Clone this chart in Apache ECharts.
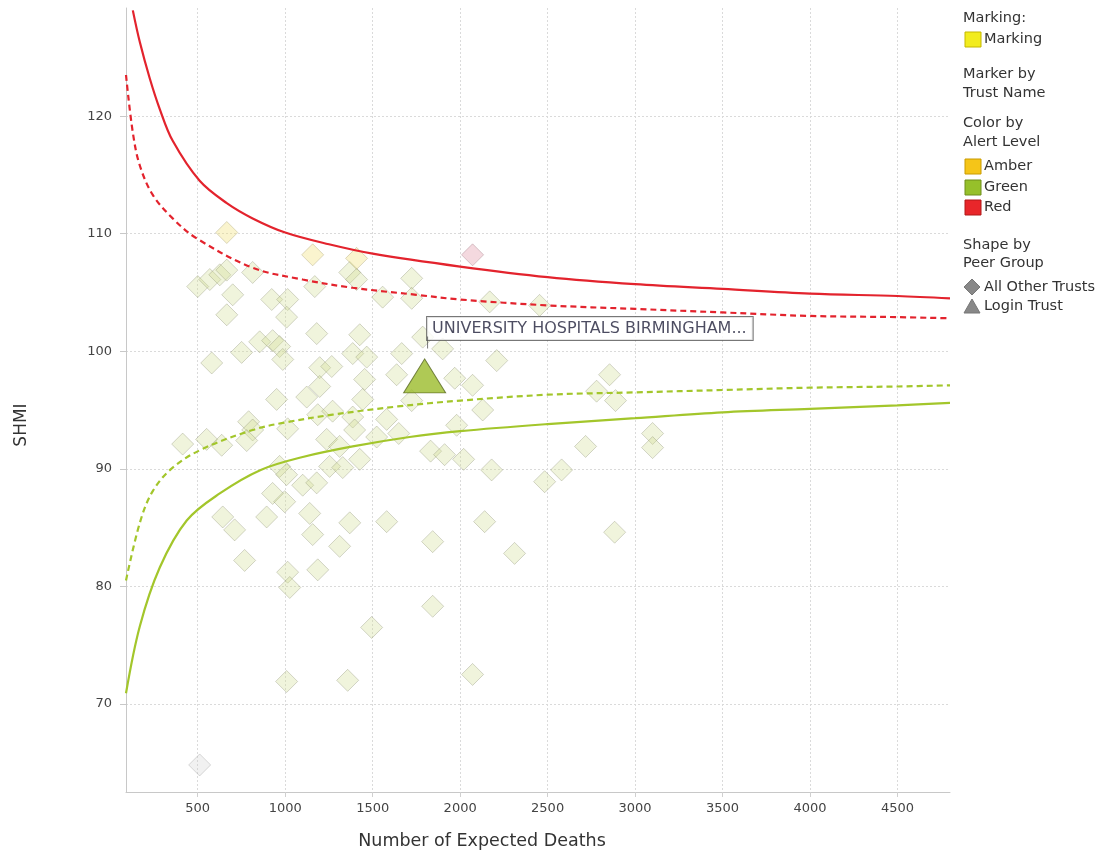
<!DOCTYPE html>
<html>
<head>
<meta charset="utf-8">
<script src="https://cdn.jsdelivr.net/npm/echarts@6/dist/echarts.min.js"></script>
<style>
html,body{margin:0;padding:0;background:#fff;}
#chart{width:1107px;height:855px;}
</style>
</head>
<body>
<div id="chart"></div>
<script>
// ---- data ----
const xTicks = [500, 1000, 1500, 2000, 2500, 3000, 3500, 4000, 4500];
const yTicks = [70, 80, 90, 100, 110, 120];

const upper998 = [[129,129.0],[169,126.3],[226,123.2],[283,120.6],[357,117.9],[511,114.5],[666,112.6],[814,111.3],[1000,110.1],[1250,109.1],[1500,108.3],[2000,107.2],[2500,106.3],[3000,105.7],[3500,105.3],[4000,104.9],[4500,104.7],[4800,104.5]];
const upper95 = [[90,123.5],[129,118.6],[169,115.8],[243,113.3],[357,111.3],[494,109.6],[814,107.1],[1100,106.1],[1386,105.4],[1750,104.8],[2000,104.4],[2500,103.9],[3000,103.6],[3500,103.3],[4000,103.0],[4500,102.9],[4800,102.8]];
const lower95 = [[90,80.5],[169,85.4],[243,88.1],[357,90.1],[529,91.7],[814,93.3],[986,93.9],[1271,94.6],[1643,95.3],[2000,95.8],[2500,96.3],[3000,96.5],[3500,96.7],[4000,96.9],[4500,97.0],[4800,97.1]];
const lower998 = [[90,70.9],[169,76.6],[283,81.6],[437,85.6],[626,87.9],[860,89.9],[1100,91.0],[1386,91.9],[1711,92.7],[2000,93.2],[2500,93.8],[3000,94.3],[3500,94.8],[4000,95.1],[4500,95.4],[4800,95.6]];

const greenTrusts = [[1369,106.7],[1408,106.1],[1723,106.2],[500,105.5],[569,106.1],[626,106.5],[666,106.9],[814,106.7],[700,104.8],[1169,105.5],[1557,104.6],[1723,104.5],[2169,104.2],[2454,103.9],[923,104.4],[1014,104.4],[666,103.1],[1008,102.9],[1180,101.5],[1426,101.4],[854,100.8],[928,100.9],[968,100.4],[751,99.9],[986,99.3],[580,99.0],[1386,99.8],[1466,99.5],[1637,98.0],[1197,98.6],[1266,98.7],[1454,97.6],[1666,99.8],[1786,101.2],[1900,100.2],[2209,99.2],[1969,97.7],[2071,97.1],[1723,95.8],[2129,95.0],[2854,98.0],[2780,96.6],[2888,95.8],[951,95.9],[1197,97.0],[1123,96.1],[1186,94.6],[1271,94.9],[1386,94.4],[1397,93.3],[1443,95.9],[1580,94.2],[1649,93.0],[791,94.0],[814,93.3],[780,92.4],[551,92.5],[414,92.1],[637,92.0],[1014,93.4],[1237,92.5],[1523,92.7],[1311,91.9],[1254,90.2],[1329,90.1],[1426,90.8],[968,90.2],[1008,89.5],[1100,88.6],[1180,88.8],[928,87.9],[997,87.2],[643,85.9],[711,84.8],[894,85.9],[1140,86.2],[1157,84.4],[1311,83.4],[1369,85.4],[1580,85.5],[768,82.2],[1014,81.2],[1186,81.4],[1026,79.9],[1494,76.5],[1008,71.9],[1357,72.0],[1831,91.5],[1911,91.2],[2020,90.8],[2180,89.9],[2483,88.9],[2580,89.9],[2717,91.9],[3100,93.0],[3100,91.8],[1843,83.8],[2140,85.5],[2311,82.8],[2883,84.6],[1843,78.3],[2071,72.5],[1980,93.7]];
const amberTrusts = [[666,110.1],[1157,108.2],[1408,107.9]];
const redTrusts = [[2071,108.2]];
const otherTrusts = [[511,64.8]];
const loginTrust = [[1797,97.9]];
const loginName = 'UNIVERSITY HOSPITALS BIRMINGHAM...';

// ---- chart ----
const FONT = 'DejaVu Sans';
const chart = echarts.init(document.getElementById('chart'), null, {renderer: 'canvas'});

function diamondSeries(name, data, fill, border) {
  return {
    name, type: 'scatter', data, symbol: 'diamond', symbolSize: 22, z: 2,
    itemStyle: {color: fill, borderColor: border, borderWidth: 1},
    emphasis: {disabled: true}, silent: true
  };
}
function limitSeries(name, data, color, dashed) {
  return {
    name, type: 'line', data, symbol: 'none', smooth: 0.35, z: 3,
    lineStyle: {color, width: 2.2, type: dashed ? [6, 4] : 'solid'},
    silent: true
  };
}

const legendText = (x, y, text) => ({type: 'text', x, y, style: {text, font: '14.5px "' + FONT + '"', fill: '#333', verticalAlign: 'middle'}});
const legendBox = (y, fill, stroke) => ({type: 'rect', shape: {x: 965, y, width: 16, height: 15}, style: {fill, stroke, lineWidth: 1}});

const plainNum = v => String(v);

const option = {
  backgroundColor: '#fff',
  animation: false,
  grid: {left: 126, right: 157, top: 8, bottom: 63, containLabel: false},
  xAxis: {
    type: 'value', min: 90, max: 4800,
    name: 'Number of Expected Deaths', nameLocation: 'middle', nameGap: 40,
    nameTextStyle: {fontFamily: FONT, fontSize: 17.5, color: '#333', padding: [0, 112, 0, 0]},
    axisLine: {show: true, lineStyle: {color: '#c8c8c8'}},
    axisTick: {show: true, length: 5, customValues: xTicks, lineStyle: {color: '#d0d0d0'}},
    axisLabel: {customValues: xTicks, formatter: plainNum, margin: 10, fontFamily: FONT, fontSize: 13, color: '#444'},
    splitLine: {show: true, lineStyle: {color: '#dadada', type: [2, 2], width: 1}}
  },
  yAxis: {
    type: 'value', min: 62.5, max: 129.2,
    name: 'SHMI', nameLocation: 'middle', nameGap: 96, nameRotate: 90,
    nameTextStyle: {fontFamily: FONT, fontSize: 17, color: '#333', padding: [0, 50, 0, 0]},
    axisLine: {show: true, lineStyle: {color: '#c8c8c8'}},
    axisTick: {show: true, length: 6, customValues: yTicks, lineStyle: {color: '#c8c8c8'}},
    axisLabel: {customValues: yTicks, formatter: plainNum, margin: 14, fontFamily: FONT, fontSize: 13, color: '#444'},
    splitLine: {show: true, lineStyle: {color: '#dadada', type: [2, 2], width: 1}}
  },
  series: [
    diamondSeries('Other trusts', otherTrusts, 'rgba(205,205,205,0.35)', 'rgba(150,150,150,0.45)'),
    diamondSeries('Green', greenTrusts, 'rgba(208,220,145,0.40)', 'rgba(120,125,95,0.38)'),
    diamondSeries('Amber', amberTrusts, 'rgba(240,225,120,0.45)', 'rgba(150,140,90,0.40)'),
    diamondSeries('Red', redTrusts, 'rgba(225,150,165,0.45)', 'rgba(150,110,120,0.45)'),
    limitSeries('Upper 99.8%', upper998, '#e3232d', false),
    limitSeries('Upper 95%', upper95, '#e3232d', true),
    limitSeries('Lower 95%', lower95, '#a3c62b', true),
    limitSeries('Lower 99.8%', lower998, '#a3c62b', false),
    {
      name: 'Login Trust', type: 'scatter', data: loginTrust, symbol: 'triangle', symbolSize: [42, 34], z: 5,
      itemStyle: {color: '#9bbb2a', borderColor: '#55651c', borderWidth: 1},
      silent: true,
      label: {
        show: true, position: [24, -38], align: 'left', verticalAlign: 'top',
        formatter: '{box|' + loginName + '}\n{stem|}',
        rich: {
          box: {fontFamily: FONT, fontSize: 16, color: '#1f1f3a', backgroundColor: '#fff', borderColor: '#555', borderWidth: 1, padding: [4, 6, 3, 5], height: 16, lineHeight: 16},
          stem: {width: 1, height: 12, backgroundColor: '#555', lineHeight: 12}
        }
      }
    }
  ],
  graphic: [
    legendText(963, 18, 'Marking:'),
    legendBox(32, '#f2ec1e', '#c4b700'),
    legendText(984, 39, 'Marking'),
    legendText(963, 74, 'Marker by'),
    legendText(963, 93, 'Trust Name'),
    legendText(963, 123, 'Color by'),
    legendText(963, 142, 'Alert Level'),
    legendBox(159, '#f5c518', '#c99a00'),
    legendText(984, 166, 'Amber'),
    legendBox(180, '#96c02a', '#6e8e1a'),
    legendText(984, 187, 'Green'),
    legendBox(200, '#e8262a', '#b01818'),
    legendText(984, 207, 'Red'),
    legendText(963, 245, 'Shape by'),
    legendText(963, 263, 'Peer Group'),
    {type: 'polygon', shape: {points: [[972, 279], [980, 287], [972, 295], [964, 287]]}, style: {fill: '#888', stroke: '#777'}},
    legendText(984, 287, 'All Other Trusts'),
    {type: 'polygon', shape: {points: [[972, 299], [980, 313], [964, 313]]}, style: {fill: '#888', stroke: '#777'}},
    legendText(984, 306, 'Login Trust')
  ]
};
chart.setOption(option);
</script>
</body>
</html>
